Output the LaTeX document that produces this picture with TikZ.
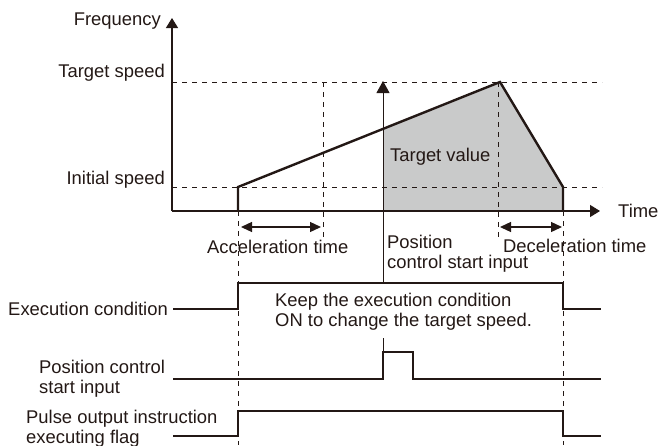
\documentclass[tikz,border=0pt]{standalone}
\usepackage{fontspec}
\setmainfont{Liberation Sans}
\usetikzlibrary{arrows.meta}
\definecolor{ink}{RGB}{35,24,21}
\definecolor{areagray}{RGB}{201,202,202}
\begin{document}
\begin{tikzpicture}[x=1pt,y=-1pt,
  lbl/.style={inner sep=0pt, font=\fontsize{18.4}{19.5}\selectfont, text=ink},
  sig/.style={draw=ink, line width=2.4pt, line join=miter},
  axisline/.style={draw=ink, line width=1.3pt},
  guide/.style={draw=ink, line width=1pt, dash pattern=on 5pt off 5pt},
  axtip/.style={-{Triangle[length=10pt,width=12pt]}},
  dimarrow/.style={draw=ink, line width=1.3pt, {Triangle[length=11pt,width=10pt]}-{Triangle[length=11pt,width=10pt]}},
]
\useasboundingbox (0,0) rectangle (659,445);

% key coordinates
\coordinate (O) at (172,211);
\coordinate (ytop) at (172,18);
\coordinate (xend) at (600,211);
\coordinate (s0) at (238,211);
\coordinate (s1) at (238,187);
\coordinate (pk) at (500,82);
\coordinate (e1) at (563,187);
\coordinate (e0) at (563,211);
\coordinate (pc) at (383,129);
\coordinate (pb) at (383,211);

% shaded area
\fill[fill=areagray] (pc) -- (pk) -- (e1) -- (e0) -- (pb) -- cycle;

% guides
\coordinate (gtl) at (172,82);  \coordinate (gtr) at (602,82);
\coordinate (gil) at (172,187); \coordinate (gir) at (602,187);
\coordinate (ga1) at (323,82);  \coordinate (ga2) at (323,237);
\coordinate (gd1) at (498,82);  \coordinate (gd2) at (498,240);
\coordinate (gs1) at (238,211); \coordinate (gs2) at (238,445);
\coordinate (ge1) at (563,211); \coordinate (ge2) at (563,445);
\draw[guide] (gtl) -- (gtr);
\draw[guide] (gil) -- (gir);
\draw[guide] (ga1) -- (ga2);
\draw[guide] (gd1) -- (gd2);
\draw[guide] (gs1) -- (gs2);
\draw[guide] (ge1) -- (ge2);

% axes
\draw[axisline, axtip] (O) -- (ytop);
\draw[axisline, axtip] (O) -- (xend);

% speed profile
\draw[sig] (s0) -- (s1) -- (pk) -- (e1) -- (e0);

% position control start arrow
\coordinate (pa0) at (383,283);
\coordinate (pa1) at (383,81);
\draw[draw=ink, line width=1pt, -{Triangle[length=12pt,width=13pt]}] (pa0) -- (pa1);

% dimension arrows
\coordinate (aa1) at (241,227); \coordinate (aa2) at (321,227);
\coordinate (da1) at (500,227); \coordinate (da2) at (562,227);
\draw[dimarrow] (aa1) -- (aa2);
\draw[dimarrow] (da1) -- (da2);

% chart labels
\node[lbl, anchor=base east] (freq) at (161,25) {Frequency};
\node[lbl, anchor=base east] (tspeed) at (165,77) {Target speed};
\node[lbl, anchor=base east] (ispeed) at (165,184) {Initial speed};
\node[lbl, anchor=base west] (tval) at (390,161) {Target value};
\node[lbl, anchor=base west] (time) at (618,217) {Time};
\node[lbl, anchor=base west] (acc) at (207,253) {Acceleration time};
\node[lbl, anchor=base west] (dec) at (503,252) {Deceleration time};
\node[lbl, anchor=base west, align=left] (pcs) at (387,268) {Position\\control start input};

% timing signals
\coordinate (x0a) at (173,309); \coordinate (x1a) at (238,309); \coordinate (x1b) at (238,283);
\coordinate (x2b) at (563,283); \coordinate (x2a) at (563,309); \coordinate (x3a) at (601,309);
\draw[sig] (x0a) -- (x1a) -- (x1b) -- (x2b) -- (x2a) -- (x3a);

\coordinate (p0a) at (173,379); \coordinate (p1a) at (383,379); \coordinate (p1b) at (383,352);
\coordinate (p2b) at (413,352); \coordinate (p2a) at (413,379); \coordinate (p3a) at (601,379);
\coordinate (ptk) at (383,338);
\draw[sig] (p0a) -- (p1a) -- (p1b) -- (p2b) -- (p2a) -- (p3a);
\draw[draw=ink, line width=1pt] (p1b) -- (ptk);

\coordinate (f0a) at (173,436); \coordinate (f1a) at (238,436); \coordinate (f1b) at (238,411);
\coordinate (f2b) at (563,411); \coordinate (f2a) at (563,436); \coordinate (f3a) at (601,436);
\draw[sig] (f0a) -- (f1a) -- (f1b) -- (f2b) -- (f2a) -- (f3a);

% signal labels
\node[lbl, anchor=base east] (exec) at (168,315) {Execution condition};
\node[lbl, anchor=base west, align=left] (keep) at (275,326) {Keep the execution condition\\ON to change the target speed.};
\node[lbl, anchor=base west, align=left] (pcsig) at (39,393) {Position control\\start input};
\node[lbl, anchor=base west, align=left] (pulse) at (26,443) {Pulse output instruction\\executing flag};
\end{tikzpicture}
\end{document}
